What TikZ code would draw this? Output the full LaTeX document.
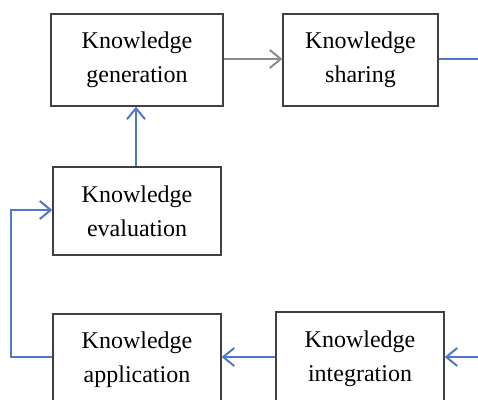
\documentclass[tikz,border=0pt]{standalone}
\usepackage{fontspec}
\setmainfont{Liberation Serif}
\usetikzlibrary{arrows.meta}
\definecolor{boxline}{RGB}{64,64,64}
\definecolor{flowblue}{RGB}{79,120,200}
\definecolor{flowgray}{RGB}{140,140,140}
\tikzset{
  kbox/.style={draw=boxline, line width=1.3pt, align=center, inner sep=0pt,
    font=\fontsize{24}{34}\selectfont, text=black},
  bluearrow/.style={draw=flowblue, line width=2pt, -{Straight Barb[length=11pt,width=18pt,line width=2pt]}},
  blueline/.style={draw=flowblue, line width=2pt},
  grayarrow/.style={draw=flowgray, line width=2pt, -{Straight Barb[length=11pt,width=18pt,line width=2pt]}},
}
\begin{document}
\begin{tikzpicture}[x=1pt,y=-1pt]
\clip (0,0) rectangle (478,399);
\fill[white] (0,0) rectangle (478,399);
\node[kbox, minimum width=172pt, minimum height=92pt] (gen) at (137,60) {Knowledge\\generation};
\node[kbox, minimum width=155pt, minimum height=92pt] (sha) at (360.5,60) {Knowledge\\sharing};
\node[kbox, minimum width=168pt, minimum height=88pt] (eva) at (137,211) {Knowledge\\evaluation};
\node[kbox, minimum width=168pt, minimum height=92pt] (app) at (137,360) {Knowledge\\application};
\node[kbox, minimum width=168pt, minimum height=94pt] (int) at (360,359) {Knowledge\\integration};
\coordinate (shaout) at (480,59);
\coordinate (intin) at (480,357);
\coordinate (loopb) at (11,357);
\coordinate (loopt) at (11,210);
\draw[grayarrow] (gen.east |- 0,59) -- (sha.west |- 0,59);
\draw[blueline] (sha.east |- 0,59) -- (shaout);
\draw[bluearrow] (intin) -- (int.east |- 0,357);
\draw[bluearrow] (int.west |- 0,357) -- (app.east |- 0,357);
\draw[bluearrow] (app.west |- 0,357) -- (loopb) -- (loopt) -- (eva.west |- 0,210);
\draw[bluearrow] (eva.north -| 136,0) -- (gen.south -| 136,0);
\end{tikzpicture}
\end{document}
